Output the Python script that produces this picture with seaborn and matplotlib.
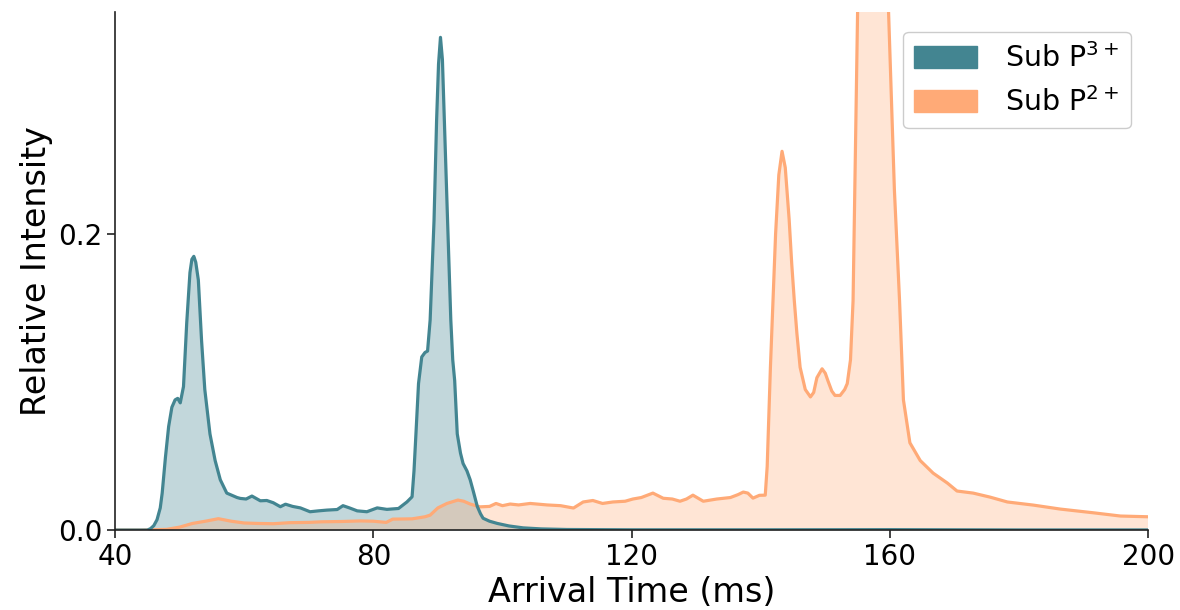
import numpy as np
import pandas as pd
import matplotlib
matplotlib.use("Agg")
import matplotlib.pyplot as plt
from matplotlib.patches import Patch
import seaborn as sns

# Arrival-time distributions (ms, relative intensity)
p3_time = [40, 45, 45.5, 46.0, 46.5, 47.0, 47.3, 47.8, 48.3, 48.8, 49.3, 49.7, 50.1,
           50.6, 51.1, 51.6, 51.9, 52.2, 52.5, 52.9, 53.4, 53.9, 54.7, 55.5, 56.3, 57.3,
           58.9, 59.4, 60.3, 61.2, 62.5, 63.5, 64.5, 65.6, 66.4, 67.5, 68.7, 70.2,
           71.5, 72.8, 74.4, 75.3, 76.3, 77.5, 79.0, 80.6, 82.1, 83.9, 85.2, 86.0,
           86.3, 86.6, 87.0, 87.5, 88.0, 88.4, 88.8, 89.4, 89.8, 90.1, 90.4, 90.7,
           91.0, 91.5, 92.0, 92.3, 92.6, 93.0, 93.5, 93.9, 94.5, 95.0, 95.5, 96.1,
           96.6, 97.0, 98.0, 99.2, 101, 103.2, 106, 110, 120, 140, 160, 180, 200]
p3_value = [0, 0, 0.001, 0.003, 0.007, 0.015, 0.025, 0.049, 0.070, 0.083, 0.088, 0.089, 0.086,
            0.097, 0.140, 0.174, 0.183, 0.185, 0.181, 0.169, 0.128, 0.095, 0.065, 0.047, 0.034, 0.025,
            0.022, 0.0214, 0.021, 0.023, 0.0198, 0.020, 0.0185, 0.0158, 0.0175, 0.016, 0.015, 0.0124,
            0.013, 0.0135, 0.0139, 0.0165, 0.015, 0.013, 0.0124, 0.015, 0.014, 0.0146, 0.019, 0.0225,
            0.040, 0.065, 0.099, 0.117, 0.120, 0.121, 0.142, 0.209, 0.277, 0.315, 0.333, 0.318,
            0.277, 0.209, 0.142, 0.115, 0.101, 0.065, 0.052, 0.045, 0.040, 0.034, 0.026, 0.016,
            0.011, 0.008, 0.006, 0.0045, 0.0028, 0.0015, 0.0008, 0.0004, 0.0002, 0.0002, 0.0003, 0.0001, 0.0001]

p2_time = [40, 44, 48, 50, 52, 54, 56, 58, 60, 62, 64.5, 67, 70, 72, 75, 78, 80, 82, 83,
           86, 88, 88.8, 90, 91.4, 93.1, 94, 95, 96.5, 98, 99, 100, 101.2, 102.5, 104.3,
           106.9, 109, 111, 112.5, 114, 115.5, 117.1, 119, 120.2, 121.5, 123.3, 124.9,
           126.3, 127.5, 128.5, 129.5, 131.1, 133.2, 135.3, 136.5, 137.3, 138, 138.8,
           139.8, 140.7, 141.0, 141.5, 141.9, 142.3, 142.8, 143.3, 143.8, 144.4, 144.8,
           145.2, 145.6, 146.1, 146.9, 147.7, 148.2, 148.7, 149.5, 150.0, 150.4, 151.0,
           151.5, 152.3, 153.0, 153.4, 153.9, 154.3, 155.0, 155.6, 156.3, 157.2, 158.0,
           158.8, 159.8, 160.7, 161.5, 162.1, 163.1, 164.7, 166.7, 168.9, 170.4, 172.9,
           175.5, 178.2, 182.2, 186.4, 191.5, 195.7, 200]
p2_value = [0, 0, 0.0005, 0.002, 0.0045, 0.006, 0.0077, 0.006, 0.0048, 0.0045, 0.0043, 0.005, 0.0052, 0.0056, 0.0058, 0.0062, 0.006, 0.0052, 0.0074,
            0.0076, 0.009, 0.0101, 0.015, 0.018, 0.0203, 0.0195, 0.0176, 0.0157, 0.016, 0.018, 0.0165, 0.0176, 0.017, 0.018,
            0.017, 0.0165, 0.0149, 0.019, 0.020, 0.018, 0.019, 0.0195, 0.021, 0.022, 0.025, 0.0215,
            0.021, 0.0195, 0.021, 0.0236, 0.0195, 0.021, 0.022, 0.024, 0.0257, 0.025, 0.0216,
            0.0235, 0.0236, 0.043, 0.110, 0.155, 0.200, 0.240, 0.256, 0.245, 0.210, 0.180,
            0.155, 0.133, 0.110, 0.095, 0.090, 0.093, 0.103, 0.109, 0.106, 0.101, 0.094,
            0.091, 0.091, 0.095, 0.099, 0.115, 0.155, 0.350, 0.500, 0.620, 0.680, 0.620,
            0.500, 0.350, 0.230, 0.155, 0.088, 0.059, 0.047, 0.0385, 0.0318, 0.0264, 0.025,
            0.0223, 0.019, 0.0169, 0.0142, 0.0117, 0.0095, 0.009]

series_labels = ["Sub P$^{3+}$", "Sub P$^{2+}$"]
x_ticks = [40, 80, 120, 160, 200]
y_ticks = [0.0, 0.2]

teal = "#438591"
orange = "#FFAA77"

sns.set_theme(style="ticks")
plt.rcParams["font.family"] = ["DejaVu Sans"]
plt.rcParams["text.color"] = "black"
plt.rcParams["axes.labelcolor"] = "black"

df3 = pd.DataFrame({"time": p3_time, "intensity": p3_value})
df2 = pd.DataFrame({"time": p2_time, "intensity": p2_value})

fig, ax = plt.subplots(figsize=(11.8, 6.1), dpi=100)
fig.subplots_adjust(left=0.0975, right=0.973, bottom=0.131, top=0.980)

ax.fill_between(df3["time"], df3["intensity"], color=teal, alpha=0.32, linewidth=0)
ax.fill_between(df2["time"], df2["intensity"], color=orange, alpha=0.3, linewidth=0)
sns.lineplot(data=df2, x="time", y="intensity", color=orange, linewidth=2.3, ax=ax)
sns.lineplot(data=df3, x="time", y="intensity", color=teal, linewidth=2.3, ax=ax)

ax.set_xlim(40, 200)
ax.set_ylim(0, 0.35)
ax.set_xticks(x_ticks)
ax.set_yticks(y_ticks)
ax.set_xticklabels([str(t) for t in x_ticks])
ax.set_yticklabels([f"{t:.1f}" for t in y_ticks])
ax.tick_params(axis="both", labelsize=20, length=6, width=1.2, color="#222222", labelcolor="black", pad=3)
ax.set_xlabel("Arrival Time (ms)", fontsize=24, labelpad=4)
ax.set_ylabel("Relative Intensity", fontsize=24, labelpad=4)
for side in ("left", "bottom"):
    ax.spines[side].set_color("#222222")
    ax.spines[side].set_linewidth(1.2)
sns.despine(ax=ax)

handles = [Patch(facecolor=teal, edgecolor=teal), Patch(facecolor=orange, edgecolor=orange)]
leg = ax.legend(handles, series_labels, loc="upper right", fontsize=20.5, frameon=True,
                handlelength=2.2, handleheight=0.8, handletextpad=1.0,
                bbox_to_anchor=(0.997, 0.99), edgecolor="#cccccc", framealpha=1.0)
for txt in leg.get_texts():
    txt.set_color("black")

fig.savefig("out.png", dpi=100)
